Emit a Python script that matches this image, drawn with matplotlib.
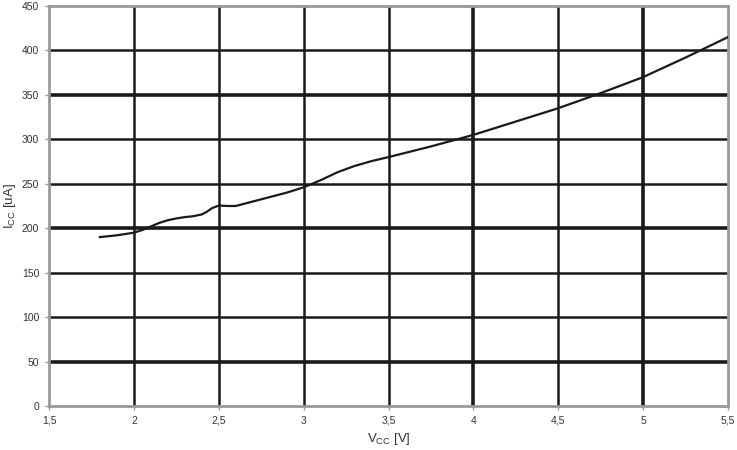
import matplotlib.pyplot as plt

plt.rcParams['font.family'] = ['Liberation Sans', 'DejaVu Sans']

# supply voltage [V] and supply current [uA]
vcc = [1.8, 1.9, 2.0, 2.05, 2.1, 2.15, 2.2, 2.25, 2.3, 2.35, 2.4, 2.43, 2.46, 2.5,
       2.55, 2.6, 2.7, 2.8, 2.9, 3.0, 3.1, 3.2, 3.3, 3.4, 3.5, 3.75, 4.0, 4.25,
       4.5, 4.75, 5.0, 5.25, 5.5]
icc = [190, 192, 195, 198, 202, 206, 209, 211, 212.5, 213.5, 215.5, 218.5, 222.5, 225.5,
       225, 225, 230, 235, 240, 246, 254, 263, 270, 275.5, 280, 292, 305, 320,
       335, 352, 370, 392, 415]

x_ticks = [1.5, 2, 2.5, 3, 3.5, 4, 4.5, 5, 5.5]
x_labels = ['1,5', '2', '2,5', '3', '3,5', '4', '4,5', '5', '5,5']
y_ticks = list(range(0, 451, 50))

fig = plt.figure(figsize=(7.37, 4.5), dpi=100)
ax = fig.add_axes([0.0665, 0.0978, 0.9213, 0.8889])

ax.set_xlim(1.5, 5.5)
ax.set_ylim(0, 450)
ax.set_xticks(x_ticks)
ax.set_xticklabels(x_labels)
ax.set_yticks(y_ticks)

# grid lines (heavier ones mimic the reference's rendering)
for y in y_ticks[1:-1]:
    lw = 2.6 if y in (50, 200, 350) else 1.8
    ax.axhline(y, color='#1a1a1a', lw=lw, zorder=1)
for x in x_ticks[1:-1]:
    lw = 2.6 if x in (4, 5) else 1.8
    ax.axvline(x, color='#1a1a1a', lw=lw, zorder=1)

ax.plot(vcc, icc, color='#1a1a1a', lw=1.6, zorder=3)

for s in ax.spines.values():
    s.set_color('#999999')
    s.set_linewidth(2)

ax.tick_params(length=3, width=1, color='#999999', labelsize=7.5,
               labelcolor='#333333', pad=4)

ax.set_xlabel(r'V$_{\mathregular{CC}}$ [V]', fontsize=9.5, color='#333333', labelpad=4)
ax.set_ylabel(r'I$_{\mathregular{CC}}$ [uA]', fontsize=9.5, color='#333333', labelpad=3)

fig.savefig('out.png', dpi=100)
